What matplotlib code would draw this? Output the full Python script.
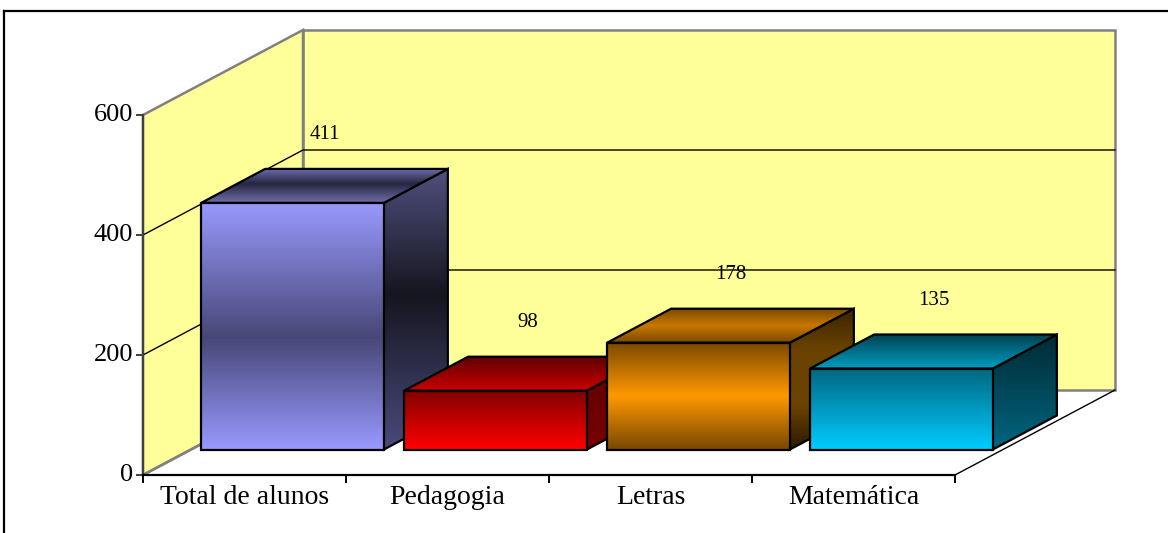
import matplotlib.pyplot as plt
import numpy as np
from matplotlib.colors import LinearSegmentedColormap
from matplotlib.patches import Polygon

plt.rcParams.update({
    "font.family": ["Liberation Serif", "DejaVu Serif"],
})

categories = ["Total de alunos", "Pedagogia", "Letras", "Matemática"]
values = [411, 98, 178, 135]
y_ticks = [0, 200, 400, 600]

# gradient stops per bar: front, side, top (top -> bottom on screen)
front_grad = [
    [(0, "#9999ff"), (0.55, "#474777"), (1, "#9999ff")],
    [(0, "#800000"), (1, "#ff0000")],
    [(0, "#7a4800"), (0.5, "#ff9900"), (1, "#7a4800")],
    [(0, "#006680"), (1, "#00ccff")],
]
side_grad = [
    [(0, "#50507e"), (0.45, "#15151f"), (1, "#4a4a7c")],
    [(0, "#5a0000"), (1, "#7a0000")],
    [(0, "#3a2400"), (0.3, "#6b4300"), (0.7, "#6b4300"), (1, "#2a1800")],
    [(0, "#002a35"), (1, "#006680")],
]
top_grad = [
    [(0, "#7070b0"), (0.45, "#262640"), (1, "#7070b0")],
    [(0, "#600000"), (1, "#cc0000")],
    [(0, "#7a4800"), (0.5, "#c87800"), (1, "#7a4800")],
    [(0, "#00404f"), (1, "#009cc0")],
]

W, H = 1168, 533
X0_PX, Y0_PX = 143, 475          # front-left floor corner
PX_CAT, PX_UNIT = 203, 0.6       # pixels per category / per value unit
DX, DY = 160 / PX_CAT, 85 / PX_UNIT   # full depth offset in data units
BAR_W, D0, D1 = 0.9, 0.30, 0.70
LABEL_GAP = 85

fig = plt.figure(figsize=(W / 100, H / 100), dpi=100)
ax = fig.add_axes([0, 0, 1, 1])
ax.axis("off")
xlim = (-0.5 - X0_PX / PX_CAT, -0.5 + (W - X0_PX) / PX_CAT)
ylim = (-(H - Y0_PX) / PX_UNIT, Y0_PX / PX_UNIT)


def pt(x, y, d):
    return (x + DX * d, y + DY * d)


def grad_poly(verts, stops, z):
    verts = np.array(verts)
    cmap = LinearSegmentedColormap.from_list("g", stops)
    poly = Polygon(verts, closed=True, facecolor="none", edgecolor="black",
                   lw=1.6, joinstyle="miter", zorder=z + 0.5)
    ax.add_patch(poly)
    img = ax.imshow(np.linspace(0, 1, 256)[:, None], cmap=cmap, aspect="auto",
                    origin="upper", interpolation="bilinear",
                    extent=(verts[:, 0].min(), verts[:, 0].max(),
                            verts[:, 1].min(), verts[:, 1].max()), zorder=z)
    img.set_clip_path(poly)


xl, xr = -0.5, len(categories) - 0.5
ymax = y_ticks[-1]
wall = "#ffff99"
edge = "#808080"

# back wall and side wall
ax.add_patch(Polygon([pt(xl, 0, 1), pt(xr, 0, 1), pt(xr, ymax, 1), pt(xl, ymax, 1)],
                     facecolor=wall, edgecolor=edge, lw=1.8, zorder=1))
ax.add_patch(Polygon([pt(xl, 0, 0), pt(xl, 0, 1), pt(xl, ymax, 1), pt(xl, ymax, 0)],
                     facecolor=wall, edgecolor=edge, lw=1.8, zorder=1))
for v in y_ticks[1:-1]:
    a, b, c = pt(xl, v, 0), pt(xl, v, 1), pt(xr, v, 1)
    ax.plot([a[0], b[0], c[0]], [a[1], b[1], c[1]], color="black", lw=1.0, zorder=2)

# floor edges
a, b = pt(xr, 0, 0), pt(xr, 0, 1)
ax.plot([a[0], b[0]], [a[1], b[1]], color="black", lw=1.0, zorder=2)
a, b = pt(xl, 0, 0), pt(xl, 0, 1)
ax.plot([a[0], b[0]], [a[1], b[1]], color=edge, lw=1.8, zorder=2)

# axes
ax.plot([xl, xl], [0, ymax], color="#404040", lw=1.6, zorder=3)
ax.plot([xl, xr], [0, 0], color="black", lw=1.6, zorder=3)
tick_x = 6 / PX_CAT
tick_y = 7 / PX_UNIT
for v in y_ticks:
    ax.plot([xl - tick_x, xl], [v, v], color="#404040", lw=1.4, zorder=3)
    ax.text(xl - 10 / PX_CAT, v, str(v), ha="right", va="center", fontsize=19)
for i in range(len(categories) + 1):
    ax.plot([xl + i, xl + i], [0, -tick_y], color="black", lw=1.4, zorder=3)
for i, name in enumerate(categories):
    ax.text(i, -23 / PX_UNIT, name, ha="center", va="center", fontsize=20)

# bars
for i, v in enumerate(values):
    z = 10 + 3 * i
    bl, br = i - BAR_W / 2, i + BAR_W / 2
    grad_poly([pt(br, 0, D0), pt(br, 0, D1), pt(br, v, D1), pt(br, v, D0)],
              side_grad[i], z)
    grad_poly([pt(bl, v, D0), pt(br, v, D0), pt(br, v, D1), pt(bl, v, D1)],
              top_grad[i], z + 1)
    grad_poly([pt(bl, 0, D0), pt(br, 0, D0), pt(br, v, D0), pt(bl, v, D0)],
              front_grad[i], z + 2)
    lx, ly = pt(i, v, (D0 + D1) / 2)
    ax.text(lx, ly + LABEL_GAP, str(v), ha="center", va="center", fontsize=15,
            zorder=30)

ax.set_xlim(*xlim)
ax.set_ylim(*ylim)

# chart area border
fig.add_artist(plt.Line2D([4 / W, 1], [1 - 11 / H, 1 - 11 / H], color="black", lw=1.6,
                          transform=fig.transFigure))
fig.add_artist(plt.Line2D([4 / W, 4 / W], [0, 1 - 11 / H], color="black", lw=1.6,
                          transform=fig.transFigure))

fig.savefig("out.png", dpi=100)
